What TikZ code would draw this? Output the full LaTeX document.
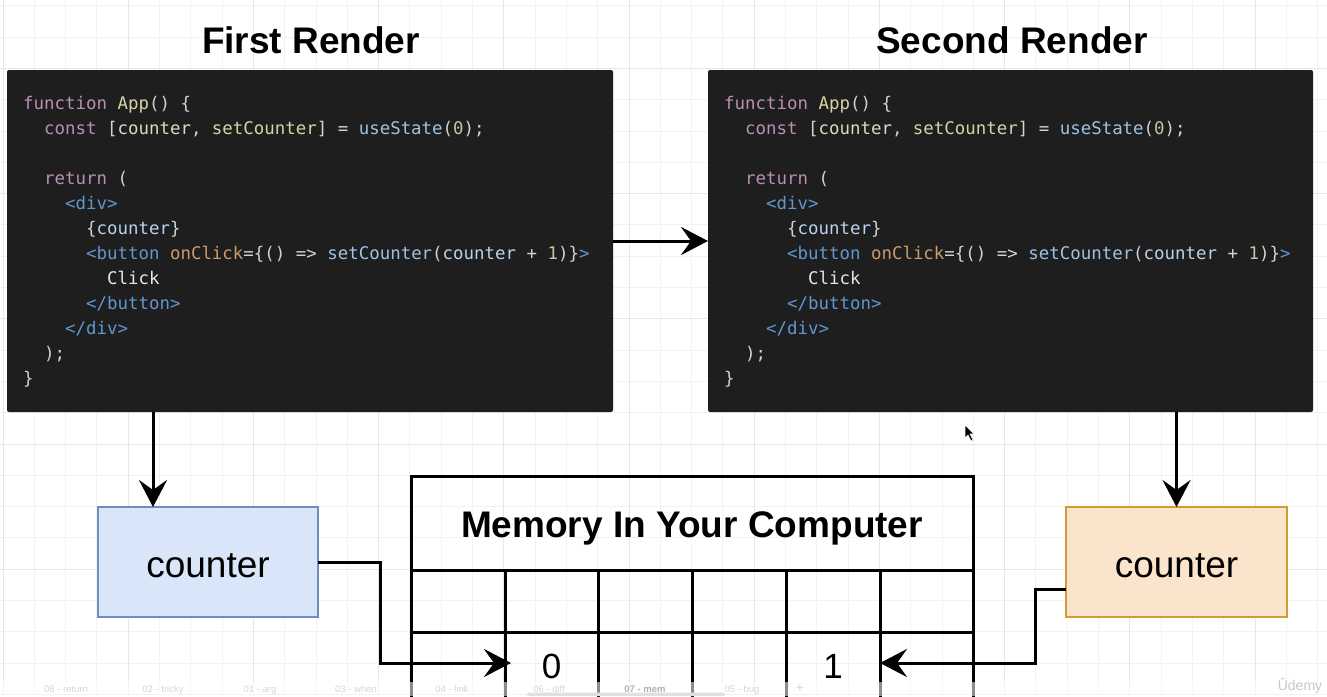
\documentclass[tikz,border=0pt]{standalone}
\usepackage{fontspec}
\setmainfont{Liberation Sans}
\newfontfamily\codefont{DejaVu Sans Mono}
\usetikzlibrary{arrows.meta,calc}
\definecolor{codebg}{HTML}{1E1E1E}
\definecolor{ckw}{HTML}{B98FB4}
\definecolor{cfn}{HTML}{D6D4A4}
\definecolor{cvar}{HTML}{DCDAC0}
\definecolor{cplain}{HTML}{D2D2D2}
\definecolor{ccall}{HTML}{9EC2E4}
\definecolor{cnum}{HTML}{B5CDA5}
\definecolor{ctag}{HTML}{6197D0}
\definecolor{cattr}{HTML}{CC9A6B}
\definecolor{cjv}{HTML}{B9D3EC}
\definecolor{ctxt}{HTML}{E6E6E6}
\definecolor{gridminor}{HTML}{F2F2F2}
\definecolor{gridmajor}{HTML}{E6E6E6}
\definecolor{bluefill}{HTML}{D9E6FA}
\definecolor{bluedraw}{HTML}{6D8EBF}
\definecolor{orangefill}{HTML}{FAE4CB}
\definecolor{orangedraw}{HTML}{D49B30}
\definecolor{tabtext}{HTML}{D6D6D6}
\newcommand\cKw[1]{{\color{ckw}#1}}
\newcommand\cFn[1]{{\color{cfn}#1}}
\newcommand\cVr[1]{{\color{cvar}#1}}
\newcommand\cCall[1]{{\color{ccall}#1}}
\newcommand\cNum[1]{{\color{cnum}#1}}
\newcommand\cTag[1]{{\color{ctag}#1}}
\newcommand\cAttr[1]{{\color{cattr}#1}}
\newcommand\cJv[1]{{\color{cjv}#1}}
\newcommand\cTxt[1]{{\color{ctxt}#1}}
\newcommand\codeblock[2]{%
\node[codeline] (#1l1) at (#2,109) {\cKw{function} \cFn{App}() \{};
\node[codeline] (#1l2) at ({#2+2*10.49},134) {\cKw{const} [\cVr{counter}, \cFn{setCounter}] = \cCall{useState}(\cNum{0});};
\node[codeline] (#1l3) at ({#2+2*10.49},184) {\cKw{return} (};
\node[codeline] (#1l4) at ({#2+4*10.49},209) {\cTag{<div>}};
\node[codeline] (#1l5) at ({#2+6*10.49},234) {\{\cJv{counter}\}};
\node[codeline] (#1l6) at ({#2+6*10.49},259) {\cTag{<button} \cAttr{onClick}=\{() => \cCall{setCounter}(\cJv{counter} + \cNum{1})\}\cTag{>}};
\node[codeline] (#1l7) at ({#2+8*10.49},284) {\cTxt{Click}};
\node[codeline] (#1l8) at ({#2+6*10.49},309) {\cTag{</button>}};
\node[codeline] (#1l9) at ({#2+4*10.49},334) {\cTag{</div>}};
\node[codeline] (#1l10) at ({#2+2*10.49},359) {);};
\node[codeline] (#1l11) at (#2,384) {\}};
}
\tikzset{
  codeline/.style={anchor=base west, inner sep=0pt, font=\codefont\fontsize{17.42}{20}\selectfont, text=cplain},
  codebox/.style={fill=codebg, draw=none, rounded corners=2pt, minimum width=606pt, minimum height=342pt, inner sep=0pt, outer sep=0pt},
  titletext/.style={anchor=base, inner sep=0pt, font=\bfseries\fontsize{37}{40}\selectfont},
  varbox/.style={line width=2.5pt, minimum width=220pt, minimum height=110pt, inner sep=0pt, outer sep=0pt, font=\fontsize{37}{40}\selectfont, text height=31pt, text depth=0pt},
  membox/.style={draw, line width=3pt, minimum width=562pt, minimum height=94pt, inner sep=0pt, outer sep=0pt, font=\bfseries\fontsize{37}{40}\selectfont, text height=28pt, text depth=0pt},
  cellA/.style={draw, line width=3pt, minimum height=62pt, inner sep=0pt, outer sep=0pt},
  cellB/.style={draw, line width=3pt, minimum height=68pt, inner sep=0pt, outer sep=0pt, font=\fontsize{35}{38}\selectfont, text depth=0pt},
  conn/.style={line width=3pt, -{Stealth[length=27pt,width=28pt,inset=10pt]}},
  gridminorline/.style={draw=gridminor, line width=1pt},
  gridmajorline/.style={draw=gridmajor, line width=1pt},
  tablabel/.style={anchor=base, inner sep=0pt, font=\fontsize{9.5}{11}\selectfont, text=tabtext},
}
\begin{document}
\begin{tikzpicture}[x=1pt,y=-1pt]
\useasboundingbox (0,0) rectangle (1327,696);
\fill[white] (0,0) rectangle (1327,696);
% background grid
\foreach \i in {0,...,42} \draw[gridminorline] ({3+31.3*\i},0) -- ({3+31.3*\i},696);
\foreach \i in {0,...,22} \draw[gridminorline] (0,{5.8+31.3*\i}) -- (1327,{5.8+31.3*\i});
\foreach \i in {0,...,10} \draw[gridmajorline] ({3+125.2*\i},0) -- ({3+125.2*\i},696);
\foreach \i in {0,...,5} \draw[gridmajorline] (0,{68.4+125.2*\i}) -- (1327,{68.4+125.2*\i});

% titles
\node[titletext] (t1) at (311,53) {First Render};
\node[titletext] (t2) at (1012,53) {Second Render};

% code boxes
\node[codebox] (code1) at (310,241) {};
\node[codebox, minimum width=605pt] (code2) at (1010.5,241) {};
\codeblock{a}{23}
\codeblock{b}{724}

% variable boxes
\node[varbox, draw=bluedraw, fill=bluefill] (cl) at (208,562) {counter};
\node[varbox, draw=orangedraw, fill=orangefill, minimum width=221pt] (cr) at (1176.5,562) {counter};

% memory
\node[membox] (mem) at (692,523) {Memory In Your Computer};
\node[cellA, minimum width=94pt] (p1) at (458,601) {};
\node[cellA, minimum width=93pt] (p2) at (551.5,601) {};
\node[cellA, minimum width=94pt] (p3) at (645,601) {};
\node[cellA, minimum width=94pt] (p4) at (739,601) {};
\node[cellA, minimum width=94pt] (p5) at (833,601) {};
\node[cellA, minimum width=93pt] (p6) at (926.5,601) {};
\node[cellB, minimum width=94pt] (q1) at (458,666) {};
\node[cellB, minimum width=93pt] (q2) at (551.5,666) {0};
\node[cellB, minimum width=94pt] (q3) at (645,666) {};
\node[cellB, minimum width=94pt] (q4) at (739,666) {};
\node[cellB, minimum width=94pt] (q5) at (833,666) {1};
\node[cellB, minimum width=93pt] (q6) at (926.5,666) {};

% connectors
\draw[conn] (code1.east) -- (code2.west);
\coordinate (clt) at ($(cl.north west)!0.25!(cl.north east)$);
\draw[conn] (code1.south -| clt) -- (clt);
\draw[conn] (code2.south -| cr.north) -- (cr.north);
\draw[conn] (cl.east) -- ++(62,0) |- ([xshift=6pt,yshift=3pt]q2.west);
\draw[conn] ($(cr.west)!0.5!(cr.south west)$) -- ++(-31,0) |- ([yshift=3pt]q5.east);

% mouse cursor
\filldraw[fill=black, draw=white, line width=0.6pt] (965,425) -- (965,438) -- (968,435) -- (971,441) -- (973,440) -- (970,434) -- (974,434) -- cycle;

% bottom tab bar
\fill[white, opacity=0.55] (0,682) rectangle (1327,696);
\node[tablabel] (tb1) at (66,692) {08 - return};
\node[tablabel] (tb2) at (163,692) {02 - tricky};
\node[tablabel] (tb3) at (260,692) {01 - arg};
\node[tablabel] (tb4) at (356,692) {03 - when};
\node[tablabel] (tb5) at (452,692) {04 - link};
\node[tablabel] (tb6) at (549,692) {06 - diff};
\node[tablabel, font=\bfseries\fontsize{9.5}{11}\selectfont, text=black!30] (tb7) at (645,692) {07 - mem};
\node[tablabel] (tb8) at (742,692) {05 - bug};
\node[tablabel, font=\fontsize{14}{14}\selectfont] (tb9) at (800,692) {+};
\fill[black!12, rounded corners=2pt] (527,692.5) rectangle (725,696);
\node[anchor=base, inner sep=0pt, font=\fontsize{14}{14}\selectfont, text=black!22] (udemy) at (1300,690) {Ûdemy};
\end{tikzpicture}
\end{document}
